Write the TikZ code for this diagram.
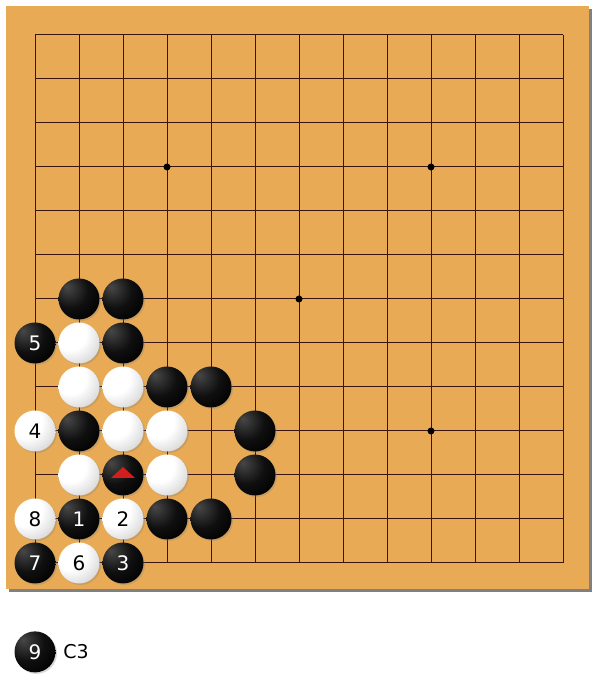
\documentclass[tikz,border=0pt]{standalone}
\usepackage{fontspec}
\setmainfont{DejaVu Sans}
\usetikzlibrary{shadows}
\usepackage{xcolor}

\definecolor{boardwood}{RGB}{232,170,84}
\definecolor{boardshade}{RGB}{128,128,128}
\definecolor{gridcol}{RGB}{60,20,15}
\definecolor{markred}{RGB}{210,30,30}

\pgfdeclareradialshading{blackstone}{\pgfpoint{-15bp}{15bp}}{color(0bp)=(black!72);
  color(22bp)=(black!94); color(40bp)=(black); color(80bp)=(black)}
\pgfdeclareradialshading{whitestone}{\pgfpoint{-15bp}{15bp}}{color(0bp)=(white);
  color(20bp)=(white); color(45bp)=(black!22); color(80bp)=(black!50)}

\begin{document}
\begin{tikzpicture}[x=44pt,y=44pt,
  gridln/.style={line width=1pt,draw=gridcol},
  stone/.style={circle,minimum size=41pt,inner sep=0pt,
    font=\fontsize{20}{24}\selectfont,
    drop shadow={shadow xshift=1.5pt,shadow yshift=-1.5pt,opacity=0.3}},
  bstone/.style={stone,shading=blackstone,text=white},
  wstone/.style={stone,shading=whitestone,text=black},
  hoshi/.style={fill=black}]
	\useasboundingbox[fill=white] (-0.7955,-3) rectangle (12.841,12.795);
	% board with its shadow
	\fill[boardshade] (-0.59,-0.66) rectangle (12.66,12.59);
	\fill[boardwood] (-0.659,-0.59) rectangle (12.59,12.66);
	\foreach \i in {0,...,12} {
		\draw[gridln] (\i,0) -- (\i,12);
		\draw[gridln] (0,\i) -- (12,\i);
	}
	\foreach \p in {(3,9),(9,9),(6,6),(9,3)}
		\fill[hoshi] \p circle (3.5pt);
	
	% black stones
	\foreach \c/\r in {1/6,2/6,2/5,3/4,4/4,1/3,5/3,2/2,5/2,3/1,4/1}
		\node[bstone] (b-\c-\r) at (\c,\r) {};
	% white stones
	\foreach \c/\r in {1/5,1/4,2/4,2/3,3/3,1/2,3/2}
		\node[wstone] (w-\c-\r) at (\c,\r) {};
	
	% numbered moves
	\node[bstone] (m1) at (1,1) {1};
	\node[wstone] (m2) at (2,1) {2};
	\node[bstone] (m3) at (2,0) {3};
	\node[wstone] (m4) at (0,3) {4};
	\node[bstone] (m5) at (0,5) {5};
	\node[wstone] (m6) at (1,0) {6};
	\node[bstone] (m7) at (0,0) {7};
	\node[wstone] (m8) at (0,1) {8};
	
	% last stone marker
	\fill[markred] ([xshift=-12pt,yshift=-3pt]b-2-2.center)
		-- ([xshift=12pt,yshift=-3pt]b-2-2.center)
		-- ([yshift=8pt]b-2-2.center) -- cycle;
	
	% next move
	\node[bstone] (m9) at (0,-2.02) {9};
	\node[anchor=west,inner sep=0pt,font=\fontsize{19}{22}\selectfont]
		(nextpt) at (0.64,-2.02) {C3};
\end{tikzpicture}
\end{document}
